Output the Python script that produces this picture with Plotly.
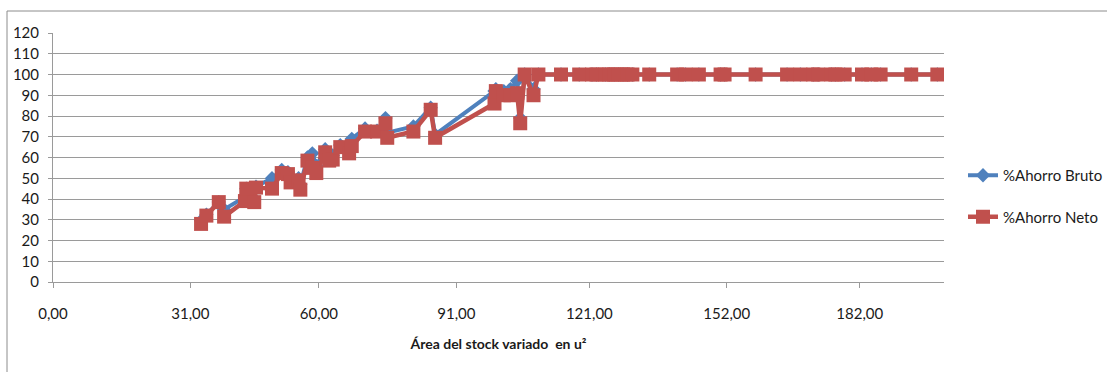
import plotly.graph_objects as go

# Área del stock variado (u²) y porcentajes de ahorro
area = [33.4, 34.6, 37.4, 38.6, 43.3, 43.6, 45.4, 45.8, 49.4, 51.6,
        53.0, 53.6, 55.4, 55.8, 57.4, 58.5, 59.4, 61.4, 62.3, 63.1,
        64.8, 66.8, 67.4, 70.4, 73.1, 75.0, 75.4, 81.3, 85.2, 86.2,
        99.6, 99.9, 101.7, 103.2, 104.7, 105.4, 106.4, 108.4, 109.5, 114.6,
        118.7, 121.6, 122.6, 124.6, 125.5, 126.6, 127.6, 128.6, 129.6, 130.7,
        134.5, 140.8, 142.7, 145.7, 150.6, 151.5, 158.5, 165.6, 168.6, 171.5,
        172.6, 175.6, 176.5, 178.6, 182.5, 184.6, 186.7, 193.6, 199.5]

ahorro_bruto = [29.5, 32.5, 38.5, 35, 41, 45, 40, 46, 50, 54,
                53, 50, 50, 47, 60, 62, 56, 64, 60, 61,
                66, 66, 69, 74, 73, 79, 72, 75, 84, 71,
                92, 93, 92, 93, 97, 79, 100, 93, 100, 100,
                100, 100, 100, 100, 100, 100, 100, 100, 100, 100,
                100, 100, 100, 100, 100, 100, 100, 100, 100, 100,
                100, 100, 100, 100, 100, 100, 100, 100, 100]

ahorro_neto = [28, 32, 38.5, 31.5, 39, 45, 38.5, 45.5, 45, 52.5,
               52, 48, 49, 44.5, 58.5, 55, 52.5, 62.5, 58.5, 59,
               65, 62, 65.5, 72.5, 72.5, 76.5, 69.5, 72.5, 83, 69.5,
               86, 92, 90, 90, 91, 76.5, 100, 90, 100, 100,
               100, 100, 100, 100, 100, 100, 100, 100, 100, 100,
               100, 100, 100, 100, 100, 100, 100, 100, 100, 100,
               100, 100, 100, 100, 100, 100, 100, 100, 100]

x_ticks = [0, 31, 60, 91, 121, 152, 182]
x_tick_text = ["0,00", "31,00", "60,00", "91,00", "121,00", "152,00", "182,00"]
y_ticks = list(range(0, 121, 10))

BLUE = "#4F81BD"
RED = "#C0504D"
GRID = "#9a9a9a"
TEXT = "#1a1a1a"
FONT = "Lato"

fig = go.Figure()
fig.add_trace(go.Scatter(
    x=area, y=ahorro_bruto, name="%Ahorro Bruto", mode="lines+markers",
    line=dict(color=BLUE, width=4),
    marker=dict(symbol="diamond", size=11, color=BLUE),
    legendgroup="bruto",
))
fig.add_trace(go.Scatter(
    x=area, y=ahorro_neto, name="%Ahorro Neto", mode="lines+markers",
    line=dict(color=RED, width=4.5),
    marker=dict(symbol="square", size=14, color=RED),
    legendgroup="neto",
))

fig.update_layout(
    width=1107, height=372,
    margin=dict(l=53, r=163, t=33, b=90),
    paper_bgcolor="white", plot_bgcolor="white",
    font=dict(family=FONT, size=15, color=TEXT),
    showlegend=True,
    legend=dict(
        xref="container", yref="container",
        x=963 / 1107, y=(372 - 196) / 372, xanchor="left", yanchor="middle",
        font=dict(family=FONT, size=15, color=TEXT),
        bgcolor="rgba(0,0,0,0)", itemwidth=30,
        traceorder="grouped", tracegroupgap=19,
    ),
    xaxis=dict(
        range=[0, 201], tickmode="array", tickvals=x_ticks, ticktext=x_tick_text,
        showgrid=False, zeroline=False,
        showline=True, linecolor=GRID, linewidth=1,
        ticks="outside", ticklen=5, tickcolor=GRID,
        ticklabelstandoff=13,
        tickfont=dict(family=FONT, size=15, color=TEXT),
        title=dict(text="<b>Área del stock variado  en u²</b>",
                   font=dict(family=FONT, size=14, color=TEXT), standoff=18),
    ),
    yaxis=dict(
        range=[0, 120], tickmode="array", tickvals=y_ticks,
        showgrid=True, gridcolor=GRID, gridwidth=1, zeroline=False,
        showline=True, linecolor=GRID, linewidth=1,
        ticks="outside", ticklen=4, tickcolor=GRID,
        ticklabelstandoff=6,
        tickfont=dict(family=FONT, size=15, color=TEXT),
    ),
    shapes=[dict(
        type="rect", xref="paper", yref="paper",
        x0=(7 - 53) / 891, x1=(1112 - 53) / 891,
        y0=(282 - 380) / 249, y1=(282 - 11) / 249,
        line=dict(color="#8c8c8c", width=1), fillcolor="rgba(0,0,0,0)",
        layer="below",
    )],
)

fig.write_html("out.html")
